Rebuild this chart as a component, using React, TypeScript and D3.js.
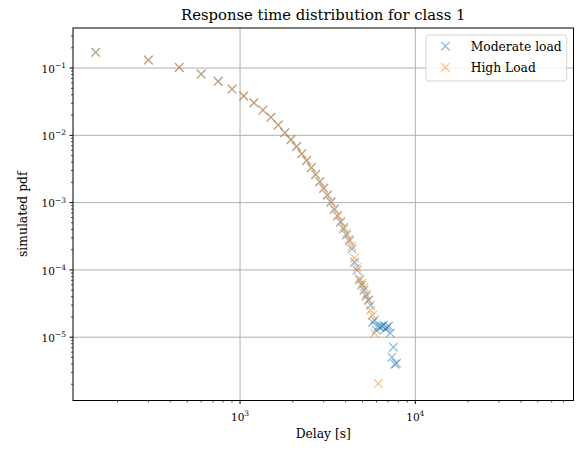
import React from "react";
import * as d3 from "d3";

// Delay bins (seconds)
const delay = [
  150, 300, 450, 600, 750, 900, 1050, 1200, 1350, 1500, 1650, 1800, 1950,
  2100, 2250, 2400, 2550, 2700, 2850, 3000, 3150, 3300, 3450, 3600, 3750,
  3900, 4050, 4200, 4350, 4500, 4650, 4800, 4950, 5100, 5250, 5400, 5550,
  5700, 5850, 6000, 6150, 6300, 6450, 6600, 6750, 6900, 7050, 7200, 7350,
  7500, 7650, 7800,
];

// Simulated pdf, moderate load
const moderateLoad: (number | null)[] = [
  0.171, 0.1315, 0.102, 0.0814, 0.0634, 0.0487, 0.0384, 0.0305, 0.0237,
  0.0185, 0.0142, 0.0109, 0.0087, 0.00675, 0.0053, 0.0042, 0.0033, 0.0026,
  0.00203, 0.00162, 0.00128, 0.00101, 0.00079, 0.00063, 5.13e-4, 4.04e-4,
  3.29e-4, 2.68e-4, 2.04e-4, 1.3e-4, 9.9e-5, 7.05e-5, 5.93e-5, 5.0e-5,
  4.07e-5, 3.55e-5, 2.99e-5, 1.67e-5, 1.79e-5, 1.27e-5, 1.46e-5, 1.41e-5,
  1.46e-5, 1.51e-5, 1.32e-5, 1.41e-5, 1.46e-5, 1.15e-5, 5.05e-6, 7.1e-6,
  3.97e-6, 4.1e-6,
];

// Simulated pdf, high load
const highLoad: (number | null)[] = [
  0.171, 0.1315, 0.102, 0.0814, 0.0634, 0.0487, 0.0384, 0.0305, 0.0237,
  0.0185, 0.0142, 0.0109, 0.0085, 0.0069, 0.0054, 0.0043, 0.00335, 0.00265,
  0.00208, 0.00166, 0.00131, 0.00104, 0.00082, 0.00065, 5.28e-4, 4.33e-4,
  3.5e-4, 2.86e-4, 2.25e-4, 1.5e-4, 1.1e-4, 7.53e-5, 6.35e-5, 5.54e-5,
  4.36e-5, 3.55e-5, 2.52e-5, 2.12e-5, 1.15e-5, null, 2.05e-6,
];

const seriesNames = ["Moderate load", "High Load"];
const seriesColors = ["#1f77b4", "#ff7f0e"];
const xMajorExponents = [3, 4];
const yMajorExponents = [-1, -2, -3, -4, -5];

const W = 579;
const H = 450;
const L = 73;
const R = 573.5;
const T = 28;
const B = 400.5;
const FONT = "'DejaVu Serif', serif";

const x = d3.scaleLog().domain([111.4, 79900]).range([L, R]);
const y = d3.scaleLog().domain([0.3936, 1.147e-6]).range([T, B]);

function minorTicks(scale: d3.ScaleLogarithmic<number, number>, lo: number, hi: number) {
  const out: number[] = [];
  const [d0, d1] = scale.domain();
  const min = Math.min(d0, d1);
  const max = Math.max(d0, d1);
  for (let e = lo; e <= hi; e++) {
    for (let m = 2; m <= 9; m++) {
      const v = m * Math.pow(10, e);
      if (v >= min && v <= max) out.push(v);
    }
  }
  return out;
}

function cross(cx: number, cy: number, r: number) {
  return `M${cx - r},${cy - r}L${cx + r},${cy + r}M${cx - r},${cy + r}L${cx + r},${cy - r}`;
}

function Series({ values, color }: { values: (number | null)[]; color: string }) {
  return (
    <g stroke={color} strokeOpacity={0.5} strokeWidth={1.25} fill="none">
      {values.map((v, i) =>
        v == null ? null : <path key={i} d={cross(x(delay[i]), y(v), 4.3)} />
      )}
    </g>
  );
}

function PowerLabel({ px, py, exp, anchor }: { px: number; py: number; exp: string; anchor: "middle" | "end" }) {
  return (
    <text x={px} y={py} textAnchor={anchor} fontFamily={FONT} fontSize={10.5} fill="#000">
      10
      <tspan fontSize={7.5} dy={-4.8}>
        {exp}
      </tspan>
    </text>
  );
}

export default function App() {
  const xMinor = minorTicks(x, 2, 4);
  const yMinor = minorTicks(y, -7, -1);
  return (
    <svg
      width={W}
      height={H}
      style={{ position: "absolute", left: 0, top: 0, background: "#fff" }}
    >
      <rect x={0} y={0} width={W} height={H} fill="#fff" />
      {/* grid */}
      <g stroke="#b0b0b0" strokeWidth={1}>
        {xMajorExponents.map((e) => (
          <line key={e} x1={x(10 ** e)} x2={x(10 ** e)} y1={T} y2={B} />
        ))}
        {yMajorExponents.map((e) => (
          <line key={e} x1={L} x2={R} y1={y(10 ** e)} y2={y(10 ** e)} />
        ))}
      </g>

      <Series values={moderateLoad} color={seriesColors[0]} />
      <Series values={highLoad} color={seriesColors[1]} />

      {/* ticks */}
      <g stroke="#000" strokeWidth={1}>
        {xMajorExponents.map((e) => (
          <line key={e} x1={x(10 ** e)} x2={x(10 ** e)} y1={B} y2={B + 3.5} />
        ))}
        {xMinor.map((v) => (
          <line key={v} x1={x(v)} x2={x(v)} y1={B} y2={B + 2} strokeWidth={0.7} />
        ))}
        {yMajorExponents.map((e) => (
          <line key={e} x1={L - 3.5} x2={L} y1={y(10 ** e)} y2={y(10 ** e)} />
        ))}
        {yMinor.map((v) => (
          <line key={v} x1={L - 2} x2={L} y1={y(v)} y2={y(v)} strokeWidth={0.7} />
        ))}
      </g>
      {xMajorExponents.map((e) => (
        <PowerLabel key={e} px={x(10 ** e)} py={421} exp={String(e)} anchor="middle" />
      ))}
      {yMajorExponents.map((e) => (
        <PowerLabel key={e} px={66} py={y(10 ** e) + 4.7} exp={`\u2212${-e}`} anchor="end" />
      ))}

      {/* frame */}
      <rect x={L} y={T} width={R - L} height={B - T} fill="none" stroke="#000" strokeWidth={1} />

      {/* texts */}
      <text x={(L + R) / 2} y={20} textAnchor="middle" fontFamily={FONT} fontSize={14.8}>
        Response time distribution for class 1
      </text>
      <text x={(L + R) / 2} y={438} textAnchor="middle" fontFamily={FONT} fontSize={12.3}>
        Delay [s]
      </text>
      <text
        transform={`translate(27,${(T + B) / 2}) rotate(-90)`}
        textAnchor="middle"
        fontFamily={FONT}
        fontSize={12.3}
      >
        simulated pdf
      </text>

      {/* legend */}
      <rect x={426} y={35} width={140.7} height={46} rx={3} fill="#fff" fillOpacity={0.8} stroke="#cccccc" strokeOpacity={0.8} strokeWidth={1} />
      {seriesNames.map((name, i) => (
        <g key={name}>
          <path
            d={cross(445.5, 46.2 + i * 21.2, 4.3)}
            stroke={seriesColors[i]}
            strokeOpacity={0.5}
            strokeWidth={1.25}
            fill="none"
          />
          <text x={470.7} y={50.5 + i * 21.2} fontFamily={FONT} fontSize={12.3}>
            {name}
          </text>
        </g>
      ))}
    </svg>
  );
}
